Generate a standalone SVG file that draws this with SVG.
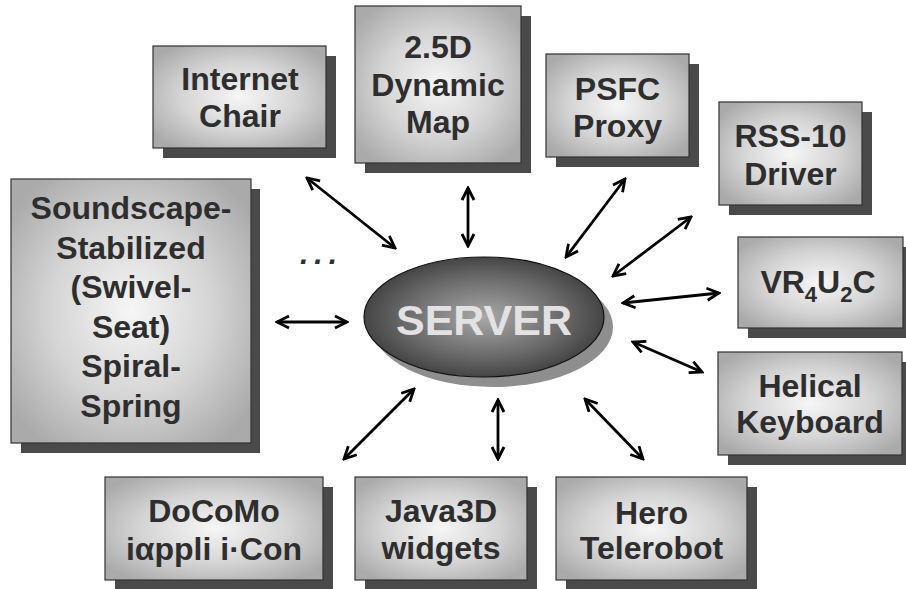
<svg xmlns="http://www.w3.org/2000/svg" width="906" height="589" viewBox="0 0 906 589">
<style>
.shadow{fill:#4a4a4a}
.box{fill:url(#boxgrad);stroke:#333;stroke-width:1.2}
.lbl{font-family:"Liberation Sans",Arial,sans-serif;font-weight:bold;font-size:32px;fill:#2e2e2e;text-anchor:middle}
.conn{stroke:#000;stroke-width:2.8;fill:none;marker-start:url(#ah);marker-end:url(#ah)}
</style>
<defs>
<radialGradient id="boxgrad" cx="0.5" cy="0.5" r="0.62">
<stop offset="0" stop-color="#f6f6f6"/>
<stop offset="0.55" stop-color="#d4d4d4"/>
<stop offset="1" stop-color="#aaaaaa"/>
</radialGradient>
<radialGradient id="srvgrad" cx="0.5" cy="0.5" r="0.55">
<stop offset="0" stop-color="#a8a8a8"/>
<stop offset="0.6" stop-color="#6a6a6a"/>
<stop offset="1" stop-color="#3a3a3a"/>
</radialGradient>
<marker id="ah" viewBox="0 0 15 15" refX="13" refY="7.5" markerWidth="15" markerHeight="15" markerUnits="userSpaceOnUse" orient="auto-start-reverse">
<path d="M1,1.5 L13,7.5 L1,13.5" fill="none" stroke="#000" stroke-width="2.8" stroke-linejoin="miter"/>
</marker>
</defs>
<rect width="906" height="589" fill="#fff"/>

<g id="connectors">
<line class="conn" x1="307" y1="178" x2="395" y2="248"/>
<line class="conn" x1="468" y1="188" x2="468" y2="246"/>
<line class="conn" x1="625" y1="179" x2="566" y2="257"/>
<line class="conn" x1="691" y1="217" x2="613" y2="276"/>
<line class="conn" x1="623" y1="303" x2="719" y2="293"/>
<line class="conn" x1="633" y1="342" x2="702" y2="372"/>
<line class="conn" x1="585" y1="399" x2="643" y2="459"/>
<line class="conn" x1="498" y1="400" x2="498" y2="459"/>
<line class="conn" x1="414" y1="389" x2="344" y2="459"/>
<line class="conn" x1="277" y1="322" x2="347" y2="322"/>
</g>

<text x="300" y="264" font-family="Liberation Sans,Arial,sans-serif" font-size="30" font-weight="bold" font-style="italic" fill="#2e2e2e" letter-spacing="6">...</text>

<g id="server">
<ellipse cx="493" cy="327" rx="120" ry="60" fill="#8e8e8e"/>
<ellipse cx="484" cy="317" rx="120" ry="60" fill="url(#srvgrad)" stroke="#111" stroke-width="1.2"/>
<text x="484" y="335" font-family="Liberation Sans,Arial,sans-serif" font-weight="bold" font-size="43" fill="#e2e2e2" text-anchor="middle">SERVER</text>
</g>

<g id="internet-chair">
<rect class="shadow" x="163" y="56" width="173" height="102"/>
<rect class="box" x="153" y="46" width="173" height="102"/>
<text class="lbl" x="240" y="90">Internet</text>
<text class="lbl" x="240" y="127">Chair</text>
</g>

<g id="dynamic-map">
<rect class="shadow" x="365" y="16" width="166" height="157"/>
<rect class="box" x="355" y="6" width="166" height="157"/>
<text class="lbl" x="438" y="58">2.5D</text>
<text class="lbl" x="438" y="96">Dynamic</text>
<text class="lbl" x="438" y="133">Map</text>
</g>

<g id="psfc-proxy">
<rect class="shadow" x="556" y="64" width="143" height="103"/>
<rect class="box" x="546" y="54" width="143" height="103"/>
<text class="lbl" x="617.5" y="100">PSFC</text>
<text class="lbl" x="617.5" y="137">Proxy</text>
</g>

<g id="rss-driver">
<rect class="shadow" x="729" y="112" width="143" height="103"/>
<rect class="box" x="719" y="102" width="143" height="103"/>
<text class="lbl" x="790.5" y="147">RSS-10</text>
<text class="lbl" x="790.5" y="185">Driver</text>
</g>

<g id="vr4u2c">
<rect class="shadow" x="748" y="247" width="165" height="91"/>
<rect class="box" x="738" y="237" width="165" height="91"/>
<text class="lbl" x="818" y="293">VR<tspan font-size="22" dy="9">4</tspan><tspan dy="-9">U</tspan><tspan font-size="22" dy="9">2</tspan><tspan dy="-9">C</tspan></text>
</g>

<g id="helical-keyboard">
<rect class="shadow" x="728" y="362" width="184" height="103"/>
<rect class="box" x="718" y="352" width="184" height="103"/>
<text class="lbl" x="810" y="397">Helical</text>
<text class="lbl" x="810" y="433">Keyboard</text>
</g>

<g id="soundscape">
<rect class="shadow" x="21" y="189" width="239" height="264"/>
<rect class="box" x="11" y="179" width="240" height="264"/>
<text class="lbl" x="131" y="219">Soundscape-</text>
<text class="lbl" x="131" y="258.5">Stabilized</text>
<text class="lbl" x="131" y="298">(Swivel-</text>
<text class="lbl" x="131" y="337.5">Seat)</text>
<text class="lbl" x="131" y="377">Spiral-</text>
<text class="lbl" x="131" y="416.5">Spring</text>
</g>

<g id="docomo">
<rect class="shadow" x="115" y="487" width="218" height="103"/>
<rect class="box" x="105" y="477" width="218" height="103"/>
<text class="lbl" x="214" y="522">DoCoMo</text>
<text class="lbl" x="214" y="560">iαppli i·Con</text>
</g>

<g id="java3d">
<rect class="shadow" x="365" y="487" width="172" height="103"/>
<rect class="box" x="355" y="477" width="172" height="103"/>
<text class="lbl" x="441" y="522">Java3D</text>
<text class="lbl" x="441" y="559">widgets</text>
</g>

<g id="hero-telerobot">
<rect class="shadow" x="566" y="487" width="191" height="103"/>
<rect class="box" x="556" y="477" width="191" height="103"/>
<text class="lbl" x="651.5" y="524">Hero</text>
<text class="lbl" x="651.5" y="559">Telerobot</text>
</g>
</svg>
